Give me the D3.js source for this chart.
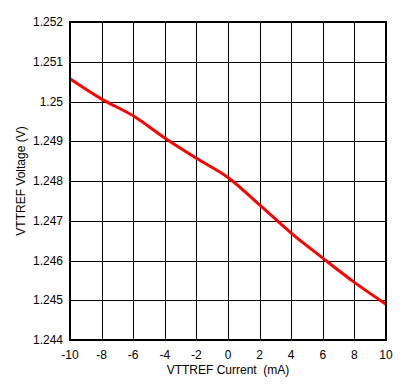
<!DOCTYPE html>
<html>
<head>
<meta charset="utf-8">
<script src="https://cdn.jsdelivr.net/npm/d3@7"></script>
<style>
  body { margin: 0; background: #fff; }
  svg text { font-family: "Liberation Sans", Arial, sans-serif; font-size: 12px; fill: #000; white-space: pre; }
</style>
</head>
<body>
<div id="chart"></div>
<script>
// data
var currents = [-10, -8, -6, -4, -2, 0, 2, 4, 6, 8, 10];
var voltages = [1.25057, 1.25006, 1.24964, 1.24908, 1.24857, 1.24809, 1.24740, 1.24669, 1.24606, 1.24545, 1.24490];
var xTicks = [-10, -8, -6, -4, -2, 0, 2, 4, 6, 8, 10];
var yTicks = [1.244, 1.245, 1.246, 1.247, 1.248, 1.249, 1.25, 1.251, 1.252];

var width = 420, height = 385;
var margin = { top: 22, right: 34, bottom: 45, left: 70 };
var w = width - margin.left - margin.right;
var h = height - margin.top - margin.bottom;

var svg = d3.select('#chart').append('svg')
    .attr('width', width)
    .attr('height', height);

var g = svg.append('g')
    .attr('transform', 'translate(' + margin.left + ',' + margin.top + ')');

var x = d3.scaleLinear().domain([-10, 10]).range([0, w]);
var y = d3.scaleLinear().domain([1.244, 1.252]).range([h, 0]);

// grid
g.append('g').selectAll('line')
    .data(xTicks)
    .enter().append('line')
    .attr('x1', function (d) { return Math.round(x(d)) + 0.5; })
    .attr('x2', function (d) { return Math.round(x(d)) + 0.5; })
    .attr('y1', 0).attr('y2', h)
    .attr('stroke', '#000').attr('stroke-width', 1);

g.append('g').selectAll('line')
    .data(yTicks)
    .enter().append('line')
    .attr('y1', function (d) { return Math.round(y(d)) + 0.5; })
    .attr('y2', function (d) { return Math.round(y(d)) + 0.5; })
    .attr('x1', 0).attr('x2', w)
    .attr('stroke', '#000').attr('stroke-width', 1);

// tick labels
g.append('g').selectAll('text')
    .data(yTicks)
    .enter().append('text')
    .attr('x', -7)
    .attr('y', function (d) { return y(d); })
    .attr('dy', '0.35em')
    .attr('text-anchor', 'end')
    .text(function (d) { return d3.format('')(+d.toFixed(3)); });

g.append('g').selectAll('text')
    .data(xTicks)
    .enter().append('text')
    .attr('x', function (d) { return x(d); })
    .attr('y', h + 19)
    .attr('text-anchor', 'middle')
    .text(function (d) { return d; });

// line
var line = d3.line()
    .x(function (d, i) { return x(currents[i]); })
    .y(function (d) { return y(d); })
    .curve(d3.curveMonotoneX);

g.append('path')
    .datum(voltages)
    .attr('fill', 'none')
    .attr('stroke', '#ff0000')
    .attr('stroke-width', 3)
    .attr('d', line);

// frame
g.append('rect')
    .attr('x', 0).attr('y', 0)
    .attr('width', w).attr('height', h)
    .attr('fill', 'none')
    .attr('stroke', '#000')
    .attr('stroke-width', 2);

// axis titles
svg.append('text')
    .attr('x', margin.left + w / 2)
    .attr('y', 374)
    .attr('text-anchor', 'middle')
    .text('VTTREF Current  (mA)');

svg.append('text')
    .attr('transform', 'translate(25,' + (margin.top + h / 2) + ') rotate(-90)')
    .attr('text-anchor', 'middle')
    .text('VTTREF Voltage (V)');
</script>
</body>
</html>
